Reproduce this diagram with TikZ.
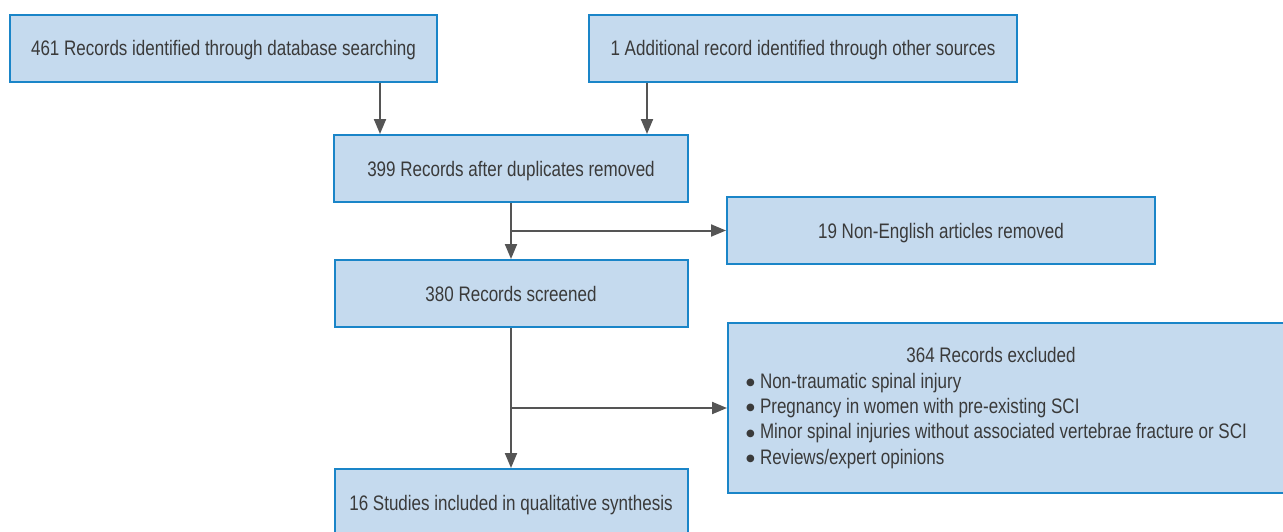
\documentclass[tikz,border=0pt]{standalone}
\usepackage{fontspec}
\setmainfont{Liberation Sans}[FakeStretch=0.81]
\newfontfamily\bulletfont{DejaVu Sans}
\usetikzlibrary{arrows.meta}
\definecolor{boxfill}{HTML}{C5DAEE}
\definecolor{boxline}{HTML}{1A85C8}
\definecolor{txt}{HTML}{3A3A3A}
\definecolor{arrowgray}{HTML}{555555}
\newcommand{\bul}{\makebox[14pt][l]{\raisebox{2.5pt}{\bulletfont\fontsize{10pt}{10pt}\selectfont ●}}}
\tikzset{
  box/.style={draw=boxline, fill=boxfill, line width=2pt, text=txt, inner sep=0pt,
    font=\fontsize{21pt}{25.4pt}\selectfont},
  onebox/.style={box, text height=15pt, text depth=0pt}
}
\tikzset{
  flow/.style={draw=arrowgray, line width=2pt, -{Triangle[length=15pt,width=12pt]}}
}
\begin{document}
\begin{tikzpicture}[x=1pt,y=-1pt]
\useasboundingbox (0,0) rectangle (1283,531);
\clip (0,0) rectangle (1283,531);
\fill[white] (0,0) rectangle (1283,531);
\node[onebox, minimum width=427pt, minimum height=67pt] (b1) at (223.5,48) {461 Records identified through database searching};
\node[onebox, minimum width=428pt, minimum height=67pt] (b2) at (803,48) {1 Additional record identified through other sources};
\node[onebox, minimum width=354pt, minimum height=67pt] (b3) at (511,168.5) {399 Records after duplicates removed};
\node[onebox, minimum width=428pt, minimum height=67pt] (b4) at (941,230.5) {19 Non-English articles removed};
\node[onebox, minimum width=353pt, minimum height=67pt] (b5) at (511,293.5) {380 Records screened};
\node[box, anchor=north west, inner xsep=18pt, text width=527pt, minimum height=170pt, align=flush left] (b6) at (727,322)
  {\makebox[490pt]{364 Records excluded}\\
   \bul Non-traumatic spinal injury\\
   \bul Pregnancy in women with pre-existing SCI\\
   \bul Minor spinal injuries without associated vertebrae fracture or SCI\\
   \bul Reviews/expert opinions};
\node[onebox, minimum width=353pt, minimum height=68pt] (b7) at (511,503) {16 Studies included in qualitative synthesis};
\coordinate (c1) at (380,0);
\coordinate (c2) at (647,0);
\draw[flow] (b1.south -| c1) -- (b3.north -| c1);
\draw[flow] (b2.south -| c2) -- (b3.north -| c2);
\draw[flow] (b3.south) -- (b5.north);
\draw[flow] (b3.south |- b4.west) -- (b4.west);
\draw[flow] (b5.south) -- (b7.north);
\draw[flow] (b5.south |- b6.west) -- (b6.west);
\end{tikzpicture}
\end{document}
